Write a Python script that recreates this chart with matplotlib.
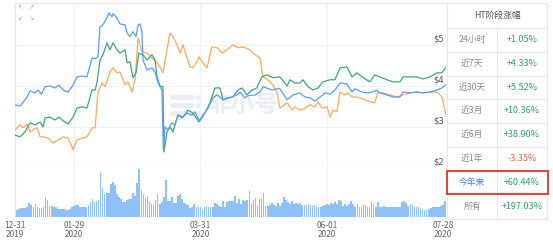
import matplotlib.pyplot as plt
from matplotlib.patches import Rectangle
from matplotlib.lines import Line2D

plt.rcParams['font.family'] = ['Noto Sans CJK SC', 'DejaVu Sans']

# 价格曲线 (天数, 价格) —— 0 = 2019-12-31
blue_day = [0, 2.5, 5.7, 7.4, 9.8, 11.3, 13.1, 14.7, 17.2, 19.6, 21.6, 23.6, 26, 28.5, 30.4, 32.9, 35.3,
            37.8, 39.3, 40.7, 41.7, 43.2, 45.1, 46.1, 47.6, 48.1, 50, 51.5, 54, 55, 56.4, 57.9, 59.4,
            60.4, 61.3, 62.3, 62.8, 64.8, 67.2, 68.7, 70.2, 72.1, 72.8, 73.6, 75.1, 77, 78.5, 80, 82,
            84.4, 86.9, 88.3, 90.3, 92.2, 94.7, 97.2, 99.1, 100.6, 102.1, 105.5, 108.9, 110.4, 112.9,
            114.3, 117.8, 120.2, 121.7, 126.1, 128.6, 130, 133.5, 136.4, 139.8, 142.3, 144.8, 147.2,
            149.7, 152.1, 154.6, 157, 159.5, 162.9, 165.4, 166.8, 170.3, 172.7, 175.2, 177.6, 179.1,
            182.5, 185.5, 188.9, 190.4, 193.8, 197.3, 200.2, 203.6, 207.1, 209.5, 211.3]
blue_price = [3.54, 3.51, 3.71, 3.88, 3.83, 3.90, 3.80, 3.98, 4.00, 3.95, 4.02, 3.90, 3.85, 4.02, 4.22,
              4.24, 4.22, 4.68, 4.66, 4.71, 5.44, 5.49, 5.66, 5.78, 5.68, 5.76, 5.66, 5.51, 5.49, 5.29,
              5.20, 5.32, 5.20, 5.49, 5.51, 5.32, 4.63, 4.39, 4.44, 4.34, 4.07, 3.90, 2.45, 3.00, 2.93,
              3.10, 3.05, 3.29, 3.22, 3.34, 3.29, 3.37, 3.15, 3.29, 3.46, 3.71, 3.78, 3.73, 3.66, 3.71,
              3.78, 3.85, 3.71, 3.76, 3.78, 3.85, 3.98, 3.90, 3.93, 3.93, 3.66, 3.78, 3.83, 3.73, 3.71,
              3.63, 3.73, 3.83, 3.80, 3.90, 4.07, 4.05, 3.85, 3.93, 3.85, 3.83, 3.85, 3.90, 3.83, 3.78,
              3.73, 3.73, 3.85, 3.83, 3.85, 3.83, 3.85, 3.90, 3.95, 4.02]

green_day = [0, 2.5, 4.9, 7.4, 9.8, 12.3, 13.7, 14.7, 17.2, 19.6, 21.6, 23.6, 26, 28.5, 30.4, 32.9,
             35.3, 37.8, 39.3, 40.2, 41.7, 43.2, 45.1, 46.6, 48.1, 50, 51.5, 54, 55, 56.4, 57.9, 59.4,
             60.8, 62.8, 64.8, 67.2, 68.7, 69.7, 71.1, 72.6, 73.1, 74.6, 76, 77.5, 80, 82.4, 84.9, 87.3,
             90.3, 93.2, 95.7, 98.1, 100.6, 102.1, 104.5, 106.9, 109.4, 111.4, 113.8, 116.3, 118.7,
             121.1, 123.6, 126.6, 130, 133.5, 135, 137.4, 139.8, 141.3, 143.8, 146.2, 148.7, 151.1,
             154.6, 157, 159.5, 162.9, 165.4, 167.8, 170.8, 174.2, 176.6, 179.1, 182.5, 185.5, 188.9,
             190.4, 193.8, 197.3, 200.2, 203.6, 207.1, 209.5, 211.5]
green_price = [2.80, 2.76, 2.88, 3.10, 3.05, 3.12, 3.00, 3.22, 3.24, 3.17, 3.24, 3.15, 3.07, 3.24, 3.46,
               3.49, 3.46, 3.90, 3.90, 4.07, 4.63, 4.76, 5.05, 4.88, 5.05, 4.88, 4.80, 4.88, 4.56, 4.59,
               4.20, 4.32, 4.80, 4.76, 4.63, 4.76, 4.63, 4.22, 4.00, 3.98, 2.39, 2.88, 3.00, 2.88, 3.29,
               3.24, 3.41, 3.34, 3.12, 3.34, 3.59, 3.95, 3.95, 3.66, 3.71, 3.73, 3.90, 3.95, 3.78, 3.90,
               3.95, 4.22, 4.27, 4.20, 4.22, 4.00, 4.15, 4.07, 4.07, 4.15, 3.98, 3.90, 3.95, 4.10, 4.15,
               4.15, 4.44, 4.46, 4.22, 4.32, 4.20, 4.10, 4.27, 4.22, 4.15, 4.10, 4.10, 4.22, 4.22, 4.22,
               4.17, 4.22, 4.32, 4.32, 4.46]

orange_day = [0, 2.5, 3.9, 5.9, 7.4, 8.8, 10.8, 12.3, 13.7, 16.2, 18.6, 21.1, 23.6, 26, 28, 28.5, 30.4,
              32.9, 35.3, 37.8, 39.3, 40.7, 42.7, 44.2, 46.6, 48.1, 50, 51.5, 54, 55.4, 57.4, 58.9,
              60.4, 62.3, 64.8, 67.2, 69.7, 71.1, 72.6, 74.6, 76, 77.5, 79.5, 81, 82.4, 84.4, 85.9,
              87.3, 89.3, 90.3, 92.2, 94.2, 96.6, 99.1, 101.6, 104, 106.9, 109.4, 111.9, 115.3, 117.8,
              120.2, 121.7, 124.1, 126.6, 128.6, 130, 133.5, 135.9, 137.4, 139.8, 142.3, 144.8, 147.2,
              148.7, 150.7, 153.1, 154.6, 156.1, 158, 159.5, 161.9, 163.4, 165.4, 167.8, 170.8, 174.2,
              176.6, 178.1, 180.6, 184, 187.4, 190.4, 193.8, 197.3, 200.2, 203.6, 207.1, 209.5, 211,
              211.8]
orange_price = [2.93, 3.05, 2.98, 3.07, 2.88, 2.93, 2.98, 2.76, 2.76, 2.73, 2.61, 2.68, 2.76, 2.73,
                2.51, 2.44, 2.68, 2.73, 2.76, 2.98, 2.98, 3.85, 4.07, 3.98, 4.34, 4.44, 4.32, 4.34,
                4.02, 4.10, 3.85, 4.15, 5.17, 4.83, 4.80, 4.68, 4.56, 4.46, 4.32, 4.88, 5.29, 5.20,
                5.00, 4.80, 5.00, 4.68, 4.46, 4.44, 4.59, 4.71, 4.56, 4.44, 4.95, 4.93, 4.80, 4.88,
                5.00, 4.93, 4.95, 4.88, 4.76, 4.68, 4.22, 4.15, 4.02, 3.83, 3.46, 3.59, 3.41, 3.49,
                3.41, 3.46, 3.54, 3.49, 3.61, 3.46, 3.49, 3.24, 3.41, 3.37, 3.85, 3.78, 3.83, 3.73,
                3.73, 3.68, 3.61, 3.59, 3.85, 3.83, 3.78, 3.73, 3.78, 3.83, 3.85, 3.83, 3.85, 3.85,
                3.73, 3.41, 3.22]

# 每日成交量 (相对值)
volume = [6.7, 6.7, 7.7, 9, 9, 8.7, 10.7, 14, 12.7, 10,
          13, 10, 9, 9.3, 10, 20.7, 17.3, 11, 11, 10,
          10, 8.3, 8.3, 8, 8, 7.3, 6.7, 8.3, 10, 11.7,
          12.3, 12.7, 10, 10.7, 10, 9.7, 12.7, 15, 18.3, 15,
          16.7, 17.3, 45.7, 29.3, 23.3, 25, 25, 33.3, 36, 32.7,
          23.3, 20.7, 18.3, 15, 15, 17.3, 18.3, 18.3, 24, 21.7,
          35, 49.3, 27.3, 23.3, 18.3, 20, 16, 13.3, 12.7, 17.3,
          23.3, 13.3, 15, 20, 37.3, 16, 16, 20, 14, 14,
          21.7, 23.3, 18.3, 14, 13.3, 12.7, 9.3, 10.7, 13.3, 10,
          10, 10, 7.3, 10, 11.7, 10, 10, 10, 14, 13.3,
          11.7, 10.7, 16, 10, 15, 16, 16, 16, 21.7, 14,
          18.3, 13.3, 17.3, 16.7, 17.3, 26.7, 13.3, 17.3, 19.3, 11.7,
          18.3, 18.3, 24, 11.7, 11.7, 12.7, 14, 12.7, 11.7, 14,
          11.7, 14, 20, 17.3, 15, 13.3, 16, 13.3, 14, 13.3,
          14, 12.7, 12.7, 12.7, 13.3, 12.7, 11.7, 12.7, 10, 10,
          10, 11.7, 12.7, 13.3, 12.7, 14, 13.3, 15, 13.3, 17.3,
          16.7, 11.7, 13.3, 11.7, 13.3, 16, 13.3, 10, 13.3, 10,
          10, 12.7, 12.7, 10, 10, 15, 13.3, 10, 15, 10,
          10, 11.7, 10, 10, 10, 10, 10.7, 10, 10, 10.7,
          15, 16, 14, 11.7, 13.3, 12.7, 10, 10.7, 10, 8.3,
          6.7, 6.7, 7.3, 8.3, 9.3, 10, 10, 10, 10.7, 11.7,
          12.7, 16.7]

tick_days = [0, 29, 91, 153, 210]
tick_labels = ['12-31\n2019', '01-29\n2020', '03-31\n2020', '06-01\n2020', '07-28\n2020']
price_ticks = [5, 4, 3, 2]

row_labels = ['24小时', '近7天', '近30天', '近3月', '近6月', '近1年', '今年来', '所有']
row_values = ['+1.05%', '+4.33%', '+5.52%', '+10.36%', '+38.90%', '-3.35%', '+60.44%', '+197.03%']

W, H = 553, 240
fig = plt.figure(figsize=(W / 100, H / 100), dpi=100)


def box(x0, y0, x1, y1):
    # 像素框 -> figure 坐标
    return [x0 / W, 1 - y1 / H, (x1 - x0) / W, (y1 - y0) / H]


edge = '#e4e7ed'
grid = '#f0f2f5'
wm = '#eaeef4'

ax = fig.add_axes(box(15, 3, 446, 168))
vax = fig.add_axes(box(15, 168, 446, 217))

ax.plot(orange_day, orange_price, color='#fda85f', lw=0.9, zorder=3)
ax.plot(green_day, green_price, color='#3fa677', lw=0.9, zorder=4)
ax.plot(blue_day, blue_price, color='#5b9cf6', lw=0.9, zorder=5)
ax.set_xlim(0, 211.5)
ax.set_ylim(2.0, 6.02)

for p in [3, 4, 5]:
    ax.axhline(p, color=grid, lw=0.8, zorder=1)
for d in tick_days[1:4]:
    ax.axvline(d, color=grid, lw=0.8, zorder=1)
    vax.axvline(d, color=grid, lw=0.8, zorder=0)

for p in price_ticks:
    ax.annotate('$' + str(p), xy=(1, p), xycoords=('axes fraction', 'data'),
                xytext=(-1.5, 1.2), textcoords='offset points',
                ha='right', va='bottom', fontsize=6, color='#555555', family='DejaVu Sans')

for s in ['top', 'left', 'bottom']:
    ax.spines[s].set_color(edge)
    ax.spines[s].set_linewidth(0.8)
ax.spines['right'].set_visible(False)
ax.set_xticks([])
ax.set_yticks([])

# 水印
ax.text(0.53, 0.385, '非小号', transform=ax.transAxes, fontsize=17, color=wm,
        ha='center', va='center', zorder=0.5, fontweight='bold')
for yy in [97, 105, 113]:
    ax.add_line(Line2D([172 / W, 192 / W], [1 - yy / H, 1 - yy / H], color=wm, lw=3.5,
                       solid_capstyle='round', transform=fig.transFigure, zorder=0.5))
    ax.add_line(Line2D([198 / W, 199 / W], [1 - yy / H, 1 - yy / H], color=wm, lw=3.5,
                       solid_capstyle='round', transform=fig.transFigure, zorder=0.5))

vax.bar(range(len(volume)), volume, width=0.82, color='#8ec0fa', lw=0, zorder=2)
vax.set_xlim(0, 211.5)
vax.set_ylim(0, 50)
for s in ['top', 'right', 'bottom']:
    vax.spines[s].set_visible(False)
vax.spines['left'].set_color(edge)
vax.spines['left'].set_linewidth(0.8)
vax.set_yticks([])
vax.set_xticks(tick_days)
vax.set_xticklabels(tick_labels, fontsize=6, color='#666666', linespacing=0.95)
vax.tick_params(axis='x', length=0, pad=3)

# 左上角缩放图标
for (ix, iy, g) in [(20, 8, '↖'), (31, 8, '↗'), (20, 19, '↙'), (31, 19, '↘')]:
    fig.text(ix / W, 1 - iy / H, g, fontsize=4.5, color='#9aa0a8', ha='center', va='center',
             family='DejaVu Sans')

# 右侧涨幅表
tab = fig.add_axes(box(446, 2, 550, 221))
tab.set_xlim(446, 550)
tab.set_ylim(221, 2)
tab.axis('off')
rows = [27.5, 51.5, 75.5, 99, 122.5, 146.5, 170.5, 194, 218.5]
tab.add_patch(Rectangle((447, 3), 100, 215.5, fill=False, ec=edge, lw=0.8))
for ry in rows[:-1]:
    tab.plot([447, 547], [ry, ry], color=edge, lw=0.8)
tab.plot([497, 497], [rows[0], rows[-1]], color=edge, lw=0.8)
tab.text(497, 15.5, 'HT阶段涨幅', ha='center', va='center', fontsize=6.3, color='#555555')
for i, (lab, val) in enumerate(zip(row_labels, row_values)):
    cy = (rows[i] + rows[i + 1]) / 2
    lc = '#3a7ee8' if lab == '今年来' else '#8a8a8a'
    vc = '#f05a55' if val.startswith('-') else '#2f9e68'
    tab.text(472, cy, lab, ha='center', va='center', fontsize=6.3, color=lc)
    tab.text(522, cy, val, ha='center', va='center', fontsize=6.5, color=vc)
tab.add_patch(Rectangle((447, 170.5), 100.5, 23, fill=False, ec='#e8322c', lw=1.3, zorder=5))

fig.savefig('out.png', dpi=100)
